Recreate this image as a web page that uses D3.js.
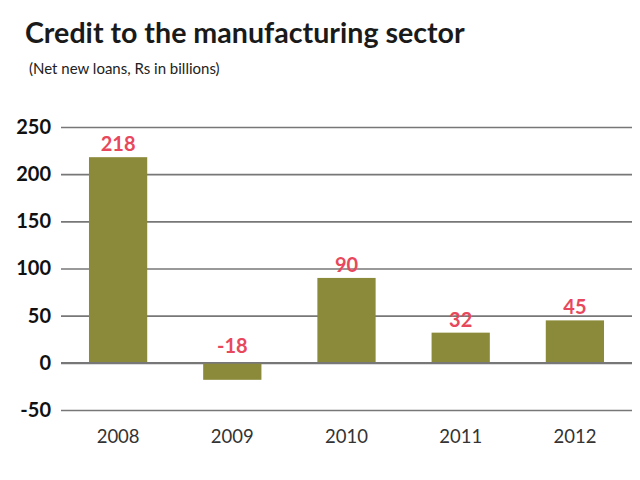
<!DOCTYPE html>
<html>
<head>
<meta charset="utf-8">
<script src="https://cdn.jsdelivr.net/npm/d3@7"></script>
<style>
  html, body { margin: 0; padding: 0; background: #fff; }
  svg { display: block; }
</style>
</head>
<body>
<svg id="chart" width="640" height="480"></svg>
<script>
const categories = ["2008", "2009", "2010", "2011", "2012"];
const values = [218, -18, 90, 32, 45];
const tickValues = [-50, 0, 50, 100, 150, 200, 250];

const svg = d3.select("#chart");
const W = 640, H = 480;
svg.append("rect").attr("width", W).attr("height", H).attr("fill", "#fff");

const x = d3.scaleBand().domain(categories).range([61, 632]).paddingInner(0.49).paddingOuter(0.245);
const y = d3.scaleLinear().domain([-50, 250]).range([410, 127]);

// title
svg.append("text").attr("x", 25).attr("y", 43)
  .attr("font-family", "Lato, 'Open Sans', sans-serif").attr("font-weight", "bold")
  .attr("font-size", 28.6).attr("fill", "#1a1a1a")
  .text("Credit to the manufacturing sector");
svg.append("text").attr("x", 29).attr("y", 74)
  .attr("font-family", "Lato, 'Open Sans', sans-serif")
  .attr("font-size", 15).attr("fill", "#222")
  .text("(Net new loans, Rs in billions)");

// grid + y axis
const yAxis = d3.axisLeft(y).tickValues(tickValues).tickSize(-(632 - 61)).tickPadding(10).tickFormat(d => String(d));
const gy = svg.append("g").attr("transform", "translate(61,0)").call(yAxis);
gy.select(".domain").remove();
gy.selectAll(".tick line").attr("stroke", "#777").attr("stroke-width", 1.6);
gy.selectAll(".tick text")
  .attr("font-family", "Lato, 'Open Sans', sans-serif").attr("font-weight", "bold")
  .attr("font-size", 20).attr("fill", "#111");

// bars
svg.append("g").selectAll("rect").data(values).join("rect")
  .attr("x", (d, i) => x(categories[i]))
  .attr("width", x.bandwidth())
  .attr("y", d => y(Math.max(0, d)))
  .attr("height", d => Math.abs(y(d) - y(0)))
  .attr("fill", "#8b8a3a");

// redraw zero line over bars
svg.append("line").attr("x1", 61).attr("x2", 632).attr("y1", y(0)).attr("y2", y(0))
  .attr("stroke", "#777").attr("stroke-width", 1.6);

// value labels
svg.append("g").selectAll("text").data(values).join("text")
  .attr("x", (d, i) => x(categories[i]) + x.bandwidth() / 2)
  .attr("y", d => d >= 0 ? y(d) - 6 : y(0) - 10)
  .attr("text-anchor", "middle")
  .attr("font-family", "Lato, 'Open Sans', sans-serif").attr("font-weight", "bold")
  .attr("font-size", 20).attr("fill", "#e8485c")
  .text(d => d);

// x axis labels
const xAxis = d3.axisBottom(x).tickSize(0).tickPadding(0);
const gx = svg.append("g").attr("transform", "translate(0,430)").call(xAxis);
gx.select(".domain").remove();
gx.selectAll(".tick text")
  .attr("font-family", "Lato, 'Open Sans', sans-serif")
  .attr("font-size", 18.5).attr("fill", "#333");
</script>
</body>
</html>
